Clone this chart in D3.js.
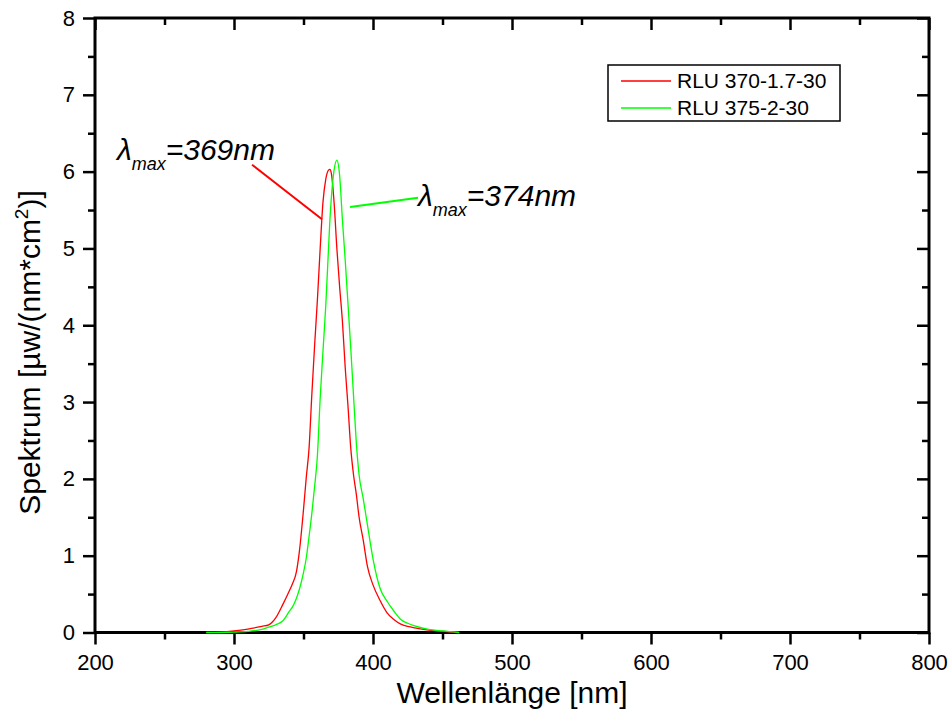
<!DOCTYPE html>
<html>
<head>
  <meta charset="utf-8">
  <style>
  body {
    margin: 0;
    background: #ffffff;
    font-family: "Liberation Sans", Arial, sans-serif;
  }
  .axis path, .axis line {
    stroke: #000000;
  }
  .axis .domain {
    display: none;
  }
  </style>
</head>
<body>
  <div id="chart"></div>
  <script src="https://d3js.org/d3.v7.min.js"></script>
  <script>
  // wavelengths (nm) shared by both spectra
  var wavelength = [280, 290, 300, 310, 320, 325, 330, 335, 340, 342, 345, 347, 350, 352, 354, 356, 358,
    360, 362, 364, 366, 368, 369, 370, 372, 374, 376, 378, 380, 382, 384, 386, 388, 390,
    393, 396, 400, 405, 410, 415, 420, 425, 430, 440, 450, 462];

  // RLU 370-1.7-30
  var spectrumRed = [0, 0.005, 0.02, 0.045, 0.08, 0.1, 0.19, 0.36, 0.55, 0.63, 0.8, 1.05, 1.6, 2.02, 2.4, 3.1, 3.74,
    4.33, 5.0, 5.6, 5.9, 6.02, 6.03, 5.98, 5.6, 5.0, 4.5, 4.05, 3.45, 2.95, 2.4, 2.05, 1.8, 1.5,
    1.2, 0.86, 0.62, 0.42, 0.26, 0.17, 0.11, 0.08, 0.06, 0.03, 0.015, 0];

  // RLU 375-2-30
  var spectrumGreen = [0, 0, 0.005, 0.015, 0.04, 0.07, 0.1, 0.15, 0.28, 0.33, 0.45, 0.56, 0.78, 0.97, 1.25, 1.55, 1.9,
    2.3, 3.05, 3.66, 4.25, 5.0, 5.37, 5.65, 6.02, 6.15, 5.95, 5.37, 4.85, 4.28, 3.7, 3.08, 2.47, 2.05,
    1.74, 1.4, 0.96, 0.58, 0.41, 0.28, 0.17, 0.12, 0.085, 0.04, 0.02, 0];

  var seriesNames = ["RLU 370-1.7-30", "RLU 375-2-30"];
  var seriesColors = ["#ff0000", "#00ff00"];

  var xTicks = [200, 300, 400, 500, 600, 700, 800];
  var yTicks = [0, 1, 2, 3, 4, 5, 6, 7, 8];

  // peak annotations: text anchor, line start, line end (data coords)
  var peakLabels = ["=369nm", "=374nm"];
  var peakText = [[215.8, 6.15], [432.4, 5.55]];
  var peakLineFrom = [[313, 6.09], [383.5, 5.54]];
  var peakLineTo = [[363.3, 5.38], [432.4, 5.66]];

  var W = 951, H = 728;
  var margin = {top: 18, right: 22, bottom: 95.5, left: 95};
  var width = W - margin.left - margin.right, height = H - margin.top - margin.bottom;

  var svg = d3.select("#chart").append("svg")
      .attr("width", W)
      .attr("height", H)
    .append("g")
      .attr("transform", "translate(" + margin.left + "," + margin.top + ")");

  var x = d3.scaleLinear().domain([200, 800]).range([0, width]);
  var y = d3.scaleLinear().domain([0, 8]).range([height, 0]);

  var xMinor = d3.range(250, 800, 100);
  var yMinor = d3.range(0.5, 8, 1);

  // bottom axis, outward ticks
  svg.append("g")
      .attr("class", "axis")
      .attr("transform", "translate(0," + height + ")")
      .call(d3.axisBottom(x).tickValues(xTicks).tickSize(12).tickPadding(10).tickFormat(d3.format("d")))
      .call(g => g.selectAll("line").attr("stroke-width", 2.5))
      .call(g => g.selectAll("text").style("font-size", "22px").style("font-family", "Liberation Sans, Arial, sans-serif"));
  svg.append("g")
      .attr("class", "axis")
      .attr("transform", "translate(0," + height + ")")
      .call(d3.axisBottom(x).tickValues(xMinor).tickSize(7).tickFormat(""))
      .call(g => g.selectAll("line").attr("stroke-width", 2.5));

  // left axis, outward ticks
  svg.append("g")
      .attr("class", "axis")
      .call(d3.axisLeft(y).tickValues(yTicks).tickSize(12).tickPadding(8).tickFormat(d3.format("d")))
      .call(g => g.selectAll("line").attr("stroke-width", 2.5))
      .call(g => g.selectAll("text").style("font-size", "22px").style("font-family", "Liberation Sans, Arial, sans-serif"));
  svg.append("g")
      .attr("class", "axis")
      .call(d3.axisLeft(y).tickValues(yMinor).tickSize(7).tickFormat(""))
      .call(g => g.selectAll("line").attr("stroke-width", 2.5));

  // top and right mirror axes, inward ticks
  svg.append("g")
      .attr("class", "axis")
      .call(d3.axisBottom(x).tickValues(xTicks).tickSize(12).tickFormat(""))
      .call(g => g.selectAll("line").attr("stroke-width", 2.5));
  svg.append("g")
      .attr("class", "axis")
      .call(d3.axisBottom(x).tickValues(xMinor).tickSize(7).tickFormat(""))
      .call(g => g.selectAll("line").attr("stroke-width", 2.5));
  svg.append("g")
      .attr("class", "axis")
      .attr("transform", "translate(" + width + ",0)")
      .call(d3.axisLeft(y).tickValues(yTicks).tickSize(12).tickFormat(""))
      .call(g => g.selectAll("line").attr("stroke-width", 2.5));
  svg.append("g")
      .attr("class", "axis")
      .attr("transform", "translate(" + width + ",0)")
      .call(d3.axisLeft(y).tickValues(yMinor).tickSize(7).tickFormat(""))
      .call(g => g.selectAll("line").attr("stroke-width", 2.5));

  // frame
  svg.append("rect")
      .attr("width", width)
      .attr("height", height)
      .attr("fill", "none")
      .attr("stroke", "#000")
      .attr("stroke-width", 3);

  // spectra
  var line = d3.line()
      .x(function(d){ return x(d[0]); })
      .y(function(d){ return y(d[1]); })
      .curve(d3.curveMonotoneX);

  [spectrumRed, spectrumGreen].forEach(function(vals, i){
    svg.append("path")
        .datum(wavelength.map(function(w, j){ return [w, vals[j]]; }))
        .attr("fill", "none")
        .attr("stroke", seriesColors[i])
        .attr("stroke-width", 1.3)
        .attr("d", line);
  });

  // peak annotations
  peakLabels.forEach(function(lbl, i){
    svg.append("line")
        .attr("x1", x(peakLineFrom[i][0]))
        .attr("y1", y(peakLineFrom[i][1]))
        .attr("x2", x(peakLineTo[i][0]))
        .attr("y2", y(peakLineTo[i][1]))
        .attr("stroke", seriesColors[i])
        .attr("stroke-width", 2);

    var t = svg.append("text")
        .attr("x", x(peakText[i][0]))
        .attr("y", y(peakText[i][1]))
        .style("font-size", "30px")
        .style("font-style", "italic");
    t.append("tspan").text("λ");
    t.append("tspan").attr("dy", 10).style("font-size", "18px").text("max");
    t.append("tspan").attr("dy", -10).text(lbl);
  });

  // legend
  var legend = svg.append("g")
      .attr("transform", "translate(" + (608 - margin.left) + "," + (65 - margin.top) + ")");
  legend.append("rect")
      .attr("width", 232)
      .attr("height", 56)
      .attr("fill", "#fff")
      .attr("stroke", "#000")
      .attr("stroke-width", 1.5);
  seriesNames.forEach(function(name, i){
    var g = legend.append("g").attr("transform", "translate(0," + (16 + i * 27) + ")");
    g.append("line")
        .attr("x1", 13).attr("x2", 63)
        .attr("stroke", seriesColors[i])
        .attr("stroke-width", 1.3);
    g.append("text")
        .attr("x", 69)
        .attr("dy", "0.35em")
        .style("font-size", "21px")
        .text(name);
  });

  // axis titles
  svg.append("text")
      .attr("x", width / 2)
      .attr("y", height + 70)
      .attr("text-anchor", "middle")
      .style("font-size", "30px")
      .text("Wellenlänge [nm]");

  var yt = svg.append("text")
      .attr("transform", "translate(" + (-55) + "," + (352.5 - margin.top) + ") rotate(-90)")
      .attr("text-anchor", "middle")
      .style("font-size", "30px");
  yt.append("tspan").text("Spektrum [µw/(nm*cm");
  yt.append("tspan").attr("dy", -12).style("font-size", "19px").text("2");
  yt.append("tspan").attr("dy", 12).text(")]");
  </script>
</body>
</html>
